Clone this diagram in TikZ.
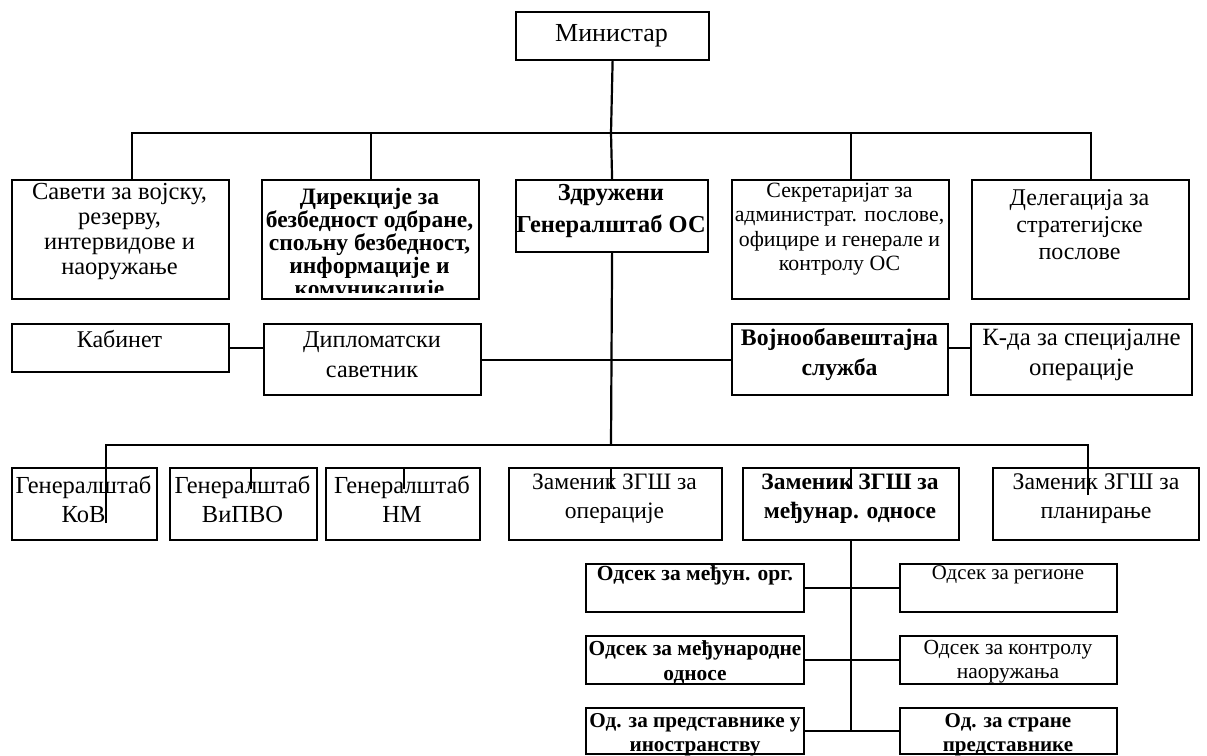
\documentclass[tikz,border=0pt]{standalone}
\usepackage{fontspec}
\setmainfont{Liberation Serif}
\tikzset{
  box/.style={draw, line width=2.2pt, rectangle, inner sep=0pt, anchor=north west},
  lbl/.style={inner sep=0pt, align=center},
  link/.style={line width=2.2pt},
}
% \orgbox{name}{x1}{y1}{x2}{y2}: empty framed box between two corners
\newcommand\orgbox[5]{%
  \pgfmathsetmacro\bw{#4-#2}\pgfmathsetmacro\bh{#5-#3}%
  \node[box, minimum width=\bw pt, minimum height=\bh pt] (#1) at (#2,#3) {};}
\newcommand\fs[2]{\fontsize{#1}{#2}\selectfont}
\begin{document}
\begin{tikzpicture}[x=1pt,y=-1pt]
\fill[white] (0,0) rectangle (1207,755);
\useasboundingbox (0,0) rectangle (1207,755);

% ---- boxes ----
\orgbox{min}{515}{11}{708}{59}
\orgbox{sav}{11}{179}{228}{298}
\orgbox{dir}{261}{179}{478}{298}
\orgbox{zgs}{515}{179}{707}{251}
\orgbox{sek}{731}{179}{948}{298}
\orgbox{del}{971}{179}{1188}{298}
\orgbox{kab}{11}{323}{228}{371}
\orgbox{dip}{263}{323}{480}{394}
\orgbox{voj}{731}{323}{947}{394}
\orgbox{kda}{970}{323}{1191}{394}
\orgbox{kov}{11}{467}{156}{539}
\orgbox{vip}{169}{467}{316}{539}
\orgbox{nm}{325}{467}{479}{539}
\orgbox{zop}{508}{467}{721}{539}
\orgbox{zin}{742}{467}{958}{539}
\orgbox{zpl}{992}{467}{1198}{539}
\orgbox{oa}{585}{563}{803}{611}
\orgbox{ra}{899}{563}{1116}{611}
\orgbox{ob}{585}{635}{803}{683}
\orgbox{rb}{899}{635}{1116}{683}
\orgbox{oc}{585}{707}{803}{753}
\orgbox{rc}{899}{707}{1116}{753}

% ---- labels ----
\node[lbl, font=\fs{26}{30}] (min-t) at (611.5,36) {Министар};
\node[lbl, font=\fs{24.5}{25}] (sav-t) at (119.5,232) {Савети за војску,\\резерву,\\интервидове и\\наоружање};
% the last line of this label runs past the inner margin and is cut off there
\begin{scope}
  \clip ([yshift=8pt]dir.south west) rectangle (dir.north east);
  \node[lbl, font=\bfseries\fs{23.5}{23}] (dir-t) at (369.5,245) {Дирекције за\\безбедност одбране,\\спољну безбедност,\\информације и\\комуникације};
\end{scope}
\node[lbl, font=\bfseries\fs{24.4}{32}] (zgs-t) at (611,211) {Здружени\\Генералштаб ОС};
\node[lbl, font=\fs{21.8}{24.5}] (sek-t) at (839.5,229) {Секретаријат за\\администрат. послове,\\официре и генерале и\\контролу ОС};
\node[lbl, font=\fs{24}{27}] (del-t) at (1079.5,225) {Делегација за\\стратегијске\\послове};
\node[lbl, font=\fs{24}{30}] (kab-t) at (119.5,339) {Кабинет};
\node[lbl, font=\fs{24.2}{30}] (dip-t) at (372,355) {Дипломатски\\саветник};
\node[lbl, font=\bfseries\fs{23.7}{30}] (voj-t) at (839.5,355) {Војнообавештајна\\служба};
\node[lbl, font=\fs{24.8}{30}] (kda-t) at (1081.5,355) {К-да за специјалне\\операције};
\node[lbl, font=\fs{24.5}{29}] (kov-t) at (83.5,499) {Генералштаб\\КоВ};
\node[lbl, font=\fs{24.5}{29}] (vip-t) at (242.5,499) {Генералштаб\\ВиПВО};
\node[lbl, font=\fs{24.5}{29}] (nm-t) at (402,499) {Генералштаб\\НМ};
\node[lbl, font=\fs{23.5}{29}] (zop-t) at (614.5,499) {Заменик ЗГШ за\\операције};
\node[lbl, font=\bfseries\fs{23.5}{29}] (zin-t) at (850,499) {Заменик ЗГШ за\\међунар. односе};
\node[lbl, font=\fs{23.8}{29}] (zpl-t) at (1096,499) {Заменик ЗГШ за\\планирање};
\node[lbl, font=\bfseries\fs{21.5}{24}] (oa-t) at (695,575) {Одсек за међун. орг.};
\node[lbl, font=\fs{20.8}{24}] (ra-t) at (1008,575) {Одсек за регионе};
\node[lbl, font=\bfseries\fs{21.4}{25}] (ob-t) at (695,662) {Одсек за међународне\\односе};
\node[lbl, font=\fs{21.5}{24}] (rb-t) at (1008,662) {Одсек за контролу\\наоружања};
\node[lbl, font=\bfseries\fs{21.2}{24}] (oc-t) at (695,735) {Од. за представнике у\\иностранству};
\node[lbl, font=\bfseries\fs{21}{24}] (rc-t) at (1008,735) {Од. за стране\\представнике};

% ---- connectors ----
\coordinate (bus1) at (611,133);
\coordinate (bus3) at (611,445);
\draw[link] (min.south) -- (bus1);
\draw[link] ([xshift=121pt]sav.north west) |- (bus1);
\draw[link] ([xshift=120pt]del.north west) |- (bus1);
\draw[link] ([xshift=110pt]dir.north west) -- ++(0,-46);
\draw[link] ([xshift=120pt]sek.north west) -- ++(0,-46);
\draw[link] (zgs.north) -- (bus1);
\draw[link] (zgs.south) -- (bus3);
\draw[link] (kab.east) -- (kab.east -| dip.west);
\draw[link] (dip.east) -- (voj.west);
\draw[link] ([yshift=11.5pt]voj.east) -- ([yshift=11.5pt]kda.west);
\draw[link] ([xshift=95pt,yshift=-56pt]kov.north west) |- (bus3);
\draw[link] ([xshift=96pt,yshift=-28pt]zpl.north west) |- (bus3);
\draw[link] ([xshift=82pt]vip.north west) -- ++(0,22);
\draw[link] ([xshift=79pt]nm.north west) -- ++(0,22);
\draw[link] ([xshift=103pt]zop.north west) -- ++(0,22);
\draw[link] (zin.north) -- ++(0,22);
\draw[link] (zin.south) -- (zin.south |- oc.east);
\draw[link] (oa.east) -- (ra.west);
\draw[link] (ob.east) -- (rb.west);
\draw[link] (oc.east) -- (rc.west);
\end{tikzpicture}
\end{document}
